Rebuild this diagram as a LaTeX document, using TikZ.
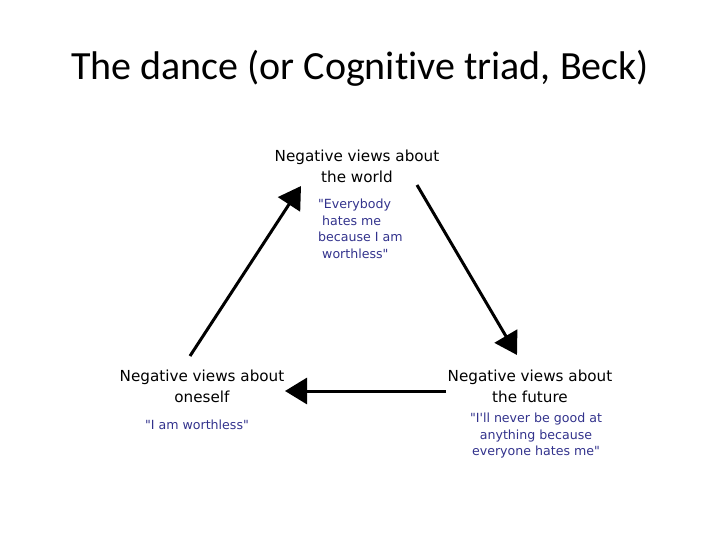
\documentclass[tikz,border=0pt]{standalone}
\usepackage{fontspec}
\setmainfont[Ligatures=NoCommon]{Carlito}
\newfontfamily\diagfont{DejaVu Sans}
\usetikzlibrary{arrows.meta}
\definecolor{quoteblue}{RGB}{50,50,140}

\begin{document}
\begin{tikzpicture}[
  x=1pt, y=-1pt,
  view/.style={font=\diagfont\fontsize{15.2}{21}\selectfont, align=center, inner sep=0pt},
  quote/.style={font=\diagfont\fontsize{12.6}{16.5}\selectfont, text=quoteblue, inner sep=0pt},
  arr/.style={-{Triangle[length=22pt,width=26pt]}, line width=3pt}
]
  \useasboundingbox (0,0) rectangle (720,540);
  \node[font=\fontsize{40}{46}\selectfont] (title) at (360,68) {The dance (or Cognitive triad, Beck)};

  % the three views
  \node[view] (world) at (357,166) {Negative views about\\the world};
  \node[view] (self) at (202,386) {Negative views about\\oneself};
  \node[view] (future) at (530,386) {Negative views about\\the future};

  % what each view says
  \node[quote, align=left, anchor=west] (worldq) at (318,229) {"Everybody\\\ hates me\\because I am\\\ worthless"};
  \node[quote, align=center] (selfq) at (197,425) {"I am worthless"};
  \node[quote, align=center] (futureq) at (536,436) {"I'll never be good at\\anything because\\everyone hates me"};

  % arrow ends
  \coordinate (selfout) at (190,356);
  \coordinate (worldin) at (301,186);
  \coordinate (worldout) at (417,185);
  \coordinate (futurein) at (517,355);
  \coordinate (futureout) at (446,391);
  \coordinate (selfin) at (285,391);

  \draw[arr] (selfout) -- (worldin);
  \draw[arr] (worldout) -- (futurein);
  \draw[arr] (futureout) -- (selfin);
\end{tikzpicture}
\end{document}
